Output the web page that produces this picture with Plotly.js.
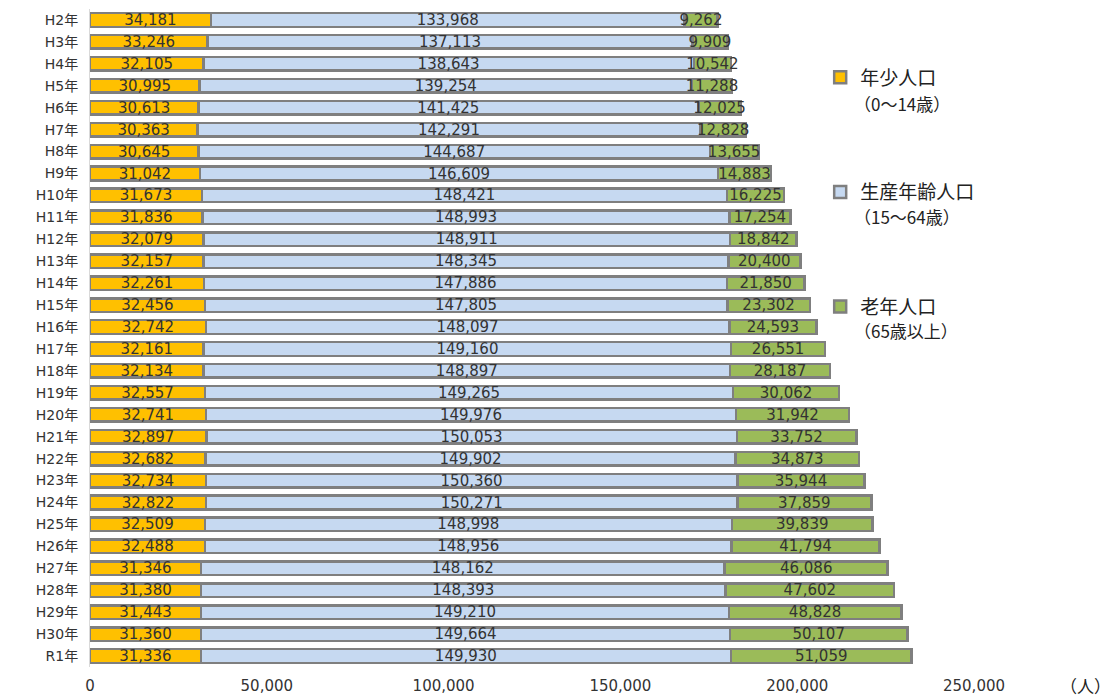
<!DOCTYPE html>
<html>
<head>
<meta charset="utf-8">
<script src="https://cdn.plot.ly/plotly-3.0.1.min.js"></script>
<style>html,body{margin:0;padding:0;background:#fff;}#chart{width:1118px;height:698px;}</style>
</head>
<body>
<div id="chart"></div>
<script>
const categories = ["H2年","H3年","H4年","H5年","H6年","H7年","H8年","H9年","H10年","H11年","H12年","H13年","H14年","H15年","H16年","H17年","H18年","H19年","H20年","H21年","H22年","H23年","H24年","H25年","H26年","H27年","H28年","H29年","H30年","R1年"];
const youngPop = [34181,33246,32105,30995,30613,30363,30645,31042,31673,31836,32079,32157,32261,32456,32742,32161,32134,32557,32741,32897,32682,32734,32822,32509,32488,31346,31380,31443,31360,31336];
const workingPop = [133968,137113,138643,139254,141425,142291,144687,146609,148421,148993,148911,148345,147886,147805,148097,149160,148897,149265,149976,150053,149902,150360,150271,148998,148956,148162,148393,149210,149664,149930];
const elderlyPop = [9262,9909,10542,11288,12025,12828,13655,14883,16225,17254,18842,20400,21850,23302,24593,26551,28187,30062,31942,33752,34873,35944,37859,39839,41794,46086,47602,48828,50107,51059];
const seriesNames = ["年少人口","生産年齢人口","老年人口"];
const seriesAges = ["（0〜14歳）","（15〜64歳）","（65歳以上）"];
const seriesColors = ["#FFC000","#C6D9F1","#9BBB59"];
const xTickVals = [0,50000,100000,150000,200000,250000];

const FONT = '"Noto Sans CJK JP", "Noto Sans", sans-serif';
const NUMFONT = '"DejaVu Sans", "Noto Sans CJK JP", sans-serif';
const data = [youngPop, workingPop, elderlyPop].map((vals, i) => ({
  type: 'bar',
  orientation: 'h',
  y: categories,
  x: vals,
  name: seriesNames[i],
  legendgroup: 'g' + i,
  marker: {color: seriesColors[i], line: {color: '#7F7F7F', width: 2.5}},
  texttemplate: '%{x:,}',
  textposition: 'inside',
  insidetextanchor: 'middle',
  textangle: 0,
  constraintext: 'none',
  textfont: {family: NUMFONT, size: 15, color: '#333333'},
  hoverinfo: 'none'
}));

const ageY = [0.857, 0.685, 0.512];
const annotations = seriesAges.map((t, i) => ({
  xref: 'paper', yref: 'paper', x: 0.862, y: ageY[i],
  xanchor: 'left', yanchor: 'middle',
  text: t, showarrow: false,
  font: {family: FONT, size: 17, color: '#222222'}
}));
annotations.push({
  xref: 'paper', yref: 'paper', x: 1.157, y: -0.028,
  xanchor: 'right', yanchor: 'middle',
  text: '（人）', showarrow: false,
  font: {family: FONT, size: 17, color: '#222222'}
});

const layout = {
  width: 1118, height: 698,
  margin: {l: 90, r: 144, t: 9, b: 31},
  paper_bgcolor: '#ffffff', plot_bgcolor: '#ffffff',
  barmode: 'stack',
  bargap: 0.38,
  font: {family: FONT, color: '#333333'},
  xaxis: {
    range: [0, 250000],
    tickvals: xTickVals,
    tickformat: ',',
    showgrid: false, zeroline: false, showline: false,
    ticks: '',
    tickfont: {family: NUMFONT, size: 15, color: '#333333'},
    ticklabelstandoff: 8
  },
  yaxis: {
    type: 'category',
    autorange: 'reversed',
    showgrid: false, zeroline: false,
    showline: true, linecolor: '#D9D9D9', linewidth: 1,
    ticks: '',
    tickfont: {family: NUMFONT, size: 14, color: '#333333'},
    ticklabelstandoff: 8
  },
  showlegend: true,
  legend: {
    x: 0.826, y: 0.925, xanchor: 'left', yanchor: 'top',
    traceorder: 'grouped',
    tracegroupgap: 87,
    font: {family: FONT, size: 19, color: '#222222'},
    bgcolor: 'rgba(0,0,0,0)'
  },
  annotations: annotations
};

Plotly.newPlot('chart', data, layout, {displayModeBar: false, staticPlot: true});
</script>
</body>
</html>
